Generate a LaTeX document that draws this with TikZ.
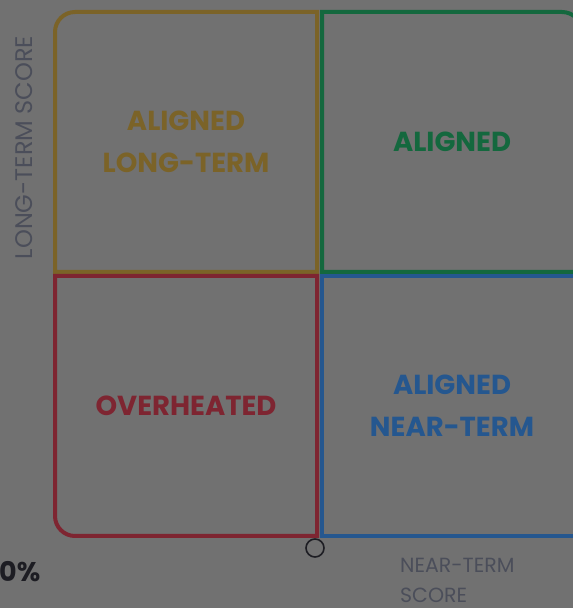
\documentclass[tikz,border=0pt]{standalone}
\usepackage{fontspec}
\setmainfont{Poppins}
\definecolor{bg}{HTML}{717171}
\definecolor{cgold}{HTML}{7B6328}
\definecolor{cgreen}{HTML}{14683E}
\definecolor{cred}{HTML}{7E2531}
\definecolor{cblue}{HTML}{25578F}
\definecolor{caxis}{HTML}{4B4E5A}
\definecolor{cdark}{HTML}{1D1D23}
\tikzset{
  quadbox/.style={line width=4pt},
  quadlabel/.style={font=\fontsize{27.5}{42}\selectfont\bfseries, align=center, inner sep=0pt},
  axislabel/.style={text=caxis, inner sep=0pt},
}
\begin{document}
\begin{tikzpicture}[x=1pt,y=1pt]
\useasboundingbox (0,0) rectangle (573,608);
\clip (0,0) rectangle (573,608);
\fill[bg] (0,0) rectangle (573,608);
% boxes
\draw[quadbox, cgold] (55,336) -- (55,576) arc[start angle=180,end angle=90,radius=20] -- (317,596) -- (317,336) -- cycle;
\draw[quadbox, cgreen] (322,336) -- (322,596) -- (562,596) arc[start angle=90,end angle=0,radius=20] -- (582,336) -- cycle;
\draw[quadbox, cred] (55,332) -- (55,92) arc[start angle=180,end angle=270,radius=20] -- (317,72) -- (317,332) -- cycle;
\draw[quadbox, cblue] (322,332) -- (322,72) -- (582,72) -- (582,332) -- cycle;
% labels
\node[quadlabel, text=cgold] (lt) at (186,466) {ALIGNED\\LONG-TERM};
\node[quadlabel, text=cgreen] (al) at (452,466) {ALIGNED};
\node[quadlabel, text=cred] (oh) at (186,202) {OVERHEATED};
\node[quadlabel, text=cblue] (nt) at (452,202) {ALIGNED\\NEAR-TERM};
% axes
\node[axislabel, font=\fontsize{24}{30}\selectfont, rotate=90] (ylab) at (24.5,460.5) {LONG-TERM SCORE};
\node[axislabel, font=\fontsize{20.5}{30}\selectfont, align=left, anchor=north west] (xlab) at (400,50) {NEAR-TERM\\SCORE};
\node[font=\fontsize{27}{30}\selectfont\bfseries, text=cdark, inner sep=0pt, anchor=base west] (pct) at (-1,26) {0\%};
\node[draw=cdark, line width=1.6pt, circle, minimum size=18pt, inner sep=0pt] (origin) at (315,60) {};
\end{tikzpicture}
\end{document}
